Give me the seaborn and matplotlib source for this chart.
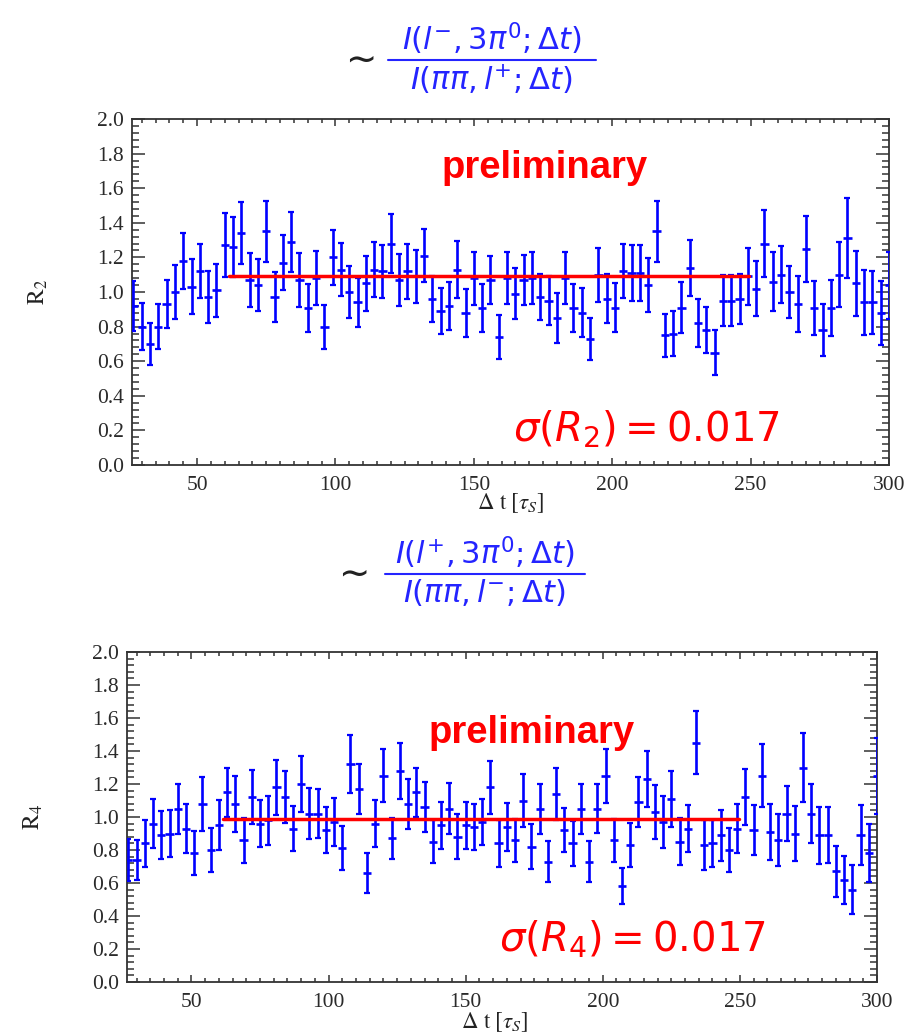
import numpy as np
import pandas as pd
import matplotlib
matplotlib.use("Agg")
import matplotlib.pyplot as plt
import seaborn as sns
from matplotlib.ticker import MultipleLocator, FormatStrFormatter
from matplotlib.lines import Line2D

# ---------------- data ----------------
dt_bins = list(range(27, 301, 3))          # bin centres of Delta t [tau_S]
bin_half_width = 1.5

r2_values = [0.92, 0.80, 0.70, 0.80, 0.93, 1.00, 1.18, 1.03, 1.12, 0.97,
             1.01, 1.27, 1.26, 1.34, 1.07, 1.04, 1.35, 0.97, 1.17, 1.29,
             1.07, 0.91, 1.08, 0.80, 1.20, 1.13, 1.00, 0.94, 1.05, 1.13,
             1.12, 1.28, 1.07, 1.12, 1.09, 1.21, 0.96, 0.89, 0.92, 1.13,
             0.88, 1.08, 0.91, 1.07, 0.74, 1.08, 0.99, 1.07, 1.08, 0.97,
             0.95, 0.85, 1.08, 0.91, 0.88, 0.73, 1.10, 0.96, 0.91, 1.12,
             1.11, 1.11, 1.04, 1.35, 0.75, 0.76, 0.91, 1.14, 0.82, 0.78,
             0.65, 0.95, 0.95, 0.96, 1.09, 1.02, 1.28, 1.06, 1.10, 1.00,
             0.93, 1.25, 0.91, 0.78, 0.91, 1.10, 1.31, 1.05, 0.94, 0.94,
             0.88, 1.04]
r2_errors = [0.146, 0.137, 0.123, 0.132, 0.137, 0.154, 0.160, 0.158, 0.156, 0.151,
             0.154, 0.186, 0.176, 0.180, 0.156, 0.149, 0.177, 0.144, 0.160, 0.173,
             0.158, 0.139, 0.156, 0.127, 0.160, 0.156, 0.149, 0.142, 0.160, 0.158,
             0.154, 0.173, 0.151, 0.160, 0.151, 0.155, 0.135, 0.132, 0.139, 0.163,
             0.140, 0.154, 0.139, 0.137, 0.125, 0.151, 0.146, 0.144, 0.151, 0.134,
             0.142, 0.142, 0.149, 0.139, 0.142, 0.121, 0.156, 0.142, 0.142, 0.156,
             0.160, 0.162, 0.154, 0.177, 0.125, 0.129, 0.146, 0.163, 0.137, 0.134,
             0.130, 0.149, 0.146, 0.146, 0.167, 0.157, 0.196, 0.172, 0.164, 0.150,
             0.160, 0.191, 0.156, 0.149, 0.162, 0.189, 0.231, 0.186, 0.187, 0.184,
             0.184, 0.194]

r4_values = [0.74, 0.74, 0.84, 0.96, 0.89, 0.90, 1.05, 0.93, 0.78, 1.08,
             0.80, 0.95, 1.15, 1.08, 0.86, 1.12, 0.96, 0.98, 1.18, 1.12,
             0.93, 1.20, 1.02, 1.02, 0.92, 0.97, 0.81, 1.32, 1.17, 0.66,
             0.96, 1.25, 0.87, 1.28, 1.08, 1.15, 1.06, 0.85, 0.95, 1.05,
             0.88, 0.95, 0.94, 0.97, 1.18, 0.84, 0.94, 0.86, 1.10, 0.82,
             1.05, 0.73, 1.14, 0.92, 0.84, 1.05, 0.73, 1.05, 1.25, 0.86,
             0.58, 0.83, 1.09, 1.23, 1.03, 0.97, 1.11, 0.85, 0.93, 1.45,
             0.83, 0.84, 0.89, 0.80, 0.93, 1.12, 0.92, 1.25, 0.91, 0.86,
             1.02, 0.90, 1.30, 1.02, 0.89, 0.89, 0.67, 0.62, 0.56, 0.89,
             0.78, 1.25]
r4_errors = [0.127, 0.120, 0.142, 0.150, 0.145, 0.145, 0.153, 0.147, 0.134, 0.165,
             0.132, 0.153, 0.150, 0.170, 0.136, 0.165, 0.143, 0.150, 0.165, 0.157,
             0.135, 0.172, 0.153, 0.150, 0.140, 0.145, 0.133, 0.175, 0.152, 0.120,
             0.143, 0.160, 0.125, 0.168, 0.152, 0.148, 0.152, 0.130, 0.143, 0.155,
             0.137, 0.142, 0.140, 0.140, 0.160, 0.140, 0.145, 0.130, 0.158, 0.135,
             0.150, 0.122, 0.160, 0.135, 0.135, 0.153, 0.123, 0.148, 0.165, 0.130,
             0.110, 0.136, 0.152, 0.168, 0.163, 0.157, 0.168, 0.143, 0.145, 0.192,
             0.152, 0.142, 0.155, 0.133, 0.148, 0.170, 0.150, 0.190, 0.168, 0.157,
             0.167, 0.165, 0.212, 0.178, 0.172, 0.170, 0.155, 0.145, 0.147, 0.182,
             0.175, 0.230]

fit_range = [61.5, 249.5]
r2_fit = 1.09
r4_fit = 0.99

x_ticks = [50, 100, 150, 200, 250, 300]
y_ticks = [0.0, 0.2, 0.4, 0.6, 0.8, 1.0, 1.2, 1.4, 1.6, 1.8, 2.0]

# ---------------- style ----------------
sns.set_theme(style="ticks")
plt.rcParams["font.family"] = ["DejaVu Sans"]
plt.rcParams["mathtext.fontset"] = "dejavusans"

W, H = 909, 1036
fig = plt.figure(figsize=(W / 100, H / 100), dpi=100)
fig.patch.set_facecolor("white")

BLUE = "#0000ff"
RED = "#ff0000"
TBLUE = "#2424ff"
AXC = "#333333"


def fx(px):
    return px / W


def fy(py):
    return 1 - py / H


def panel(rect, vals, errs, fit, ylab):
    ax = fig.add_axes(rect)
    df = pd.DataFrame({"dt": dt_bins, "R": vals, "err": errs})
    ax.errorbar(df["dt"], df["R"], yerr=df["err"], fmt="none", ecolor=BLUE,
                elinewidth=1.9, capsize=2.4, capthick=1.6, zorder=3)
    ax.errorbar(df["dt"], df["R"], xerr=bin_half_width, fmt="none", ecolor=BLUE,
                elinewidth=1.9, capsize=0, zorder=3)
    fit_df = pd.DataFrame({"dt": fit_range, "R": [fit, fit]})
    sns.lineplot(data=fit_df, x="dt", y="R", color=RED, lw=2.5, ax=ax, zorder=4)
    ax.set_xlim(26.5, 300)
    ax.set_ylim(0, 2.0)
    ax.set_xticks(x_ticks)
    ax.set_yticks(y_ticks)
    ax.xaxis.set_minor_locator(MultipleLocator(5))
    ax.yaxis.set_minor_locator(MultipleLocator(0.04))
    ax.yaxis.set_major_formatter(FormatStrFormatter("%.1f"))
    ax.tick_params(which="both", direction="in", top=True, right=True,
                   color=AXC, width=1.1)
    ax.tick_params(axis="y", which="major", length=9.5, pad=6)
    ax.tick_params(axis="y", which="minor", length=5)
    ax.tick_params(axis="x", which="major", length=5, pad=8)
    ax.tick_params(axis="x", which="minor", length=2.8)
    for lab in ax.get_xticklabels() + ax.get_yticklabels():
        lab.set_fontfamily("Liberation Serif")
        lab.set_fontsize(15.5)
        lab.set_color("#2a2a2a")
    for sp in ax.spines.values():
        sp.set_color(AXC)
        sp.set_linewidth(1.3)
    ax.set_xlabel(r"$\Delta\ \mathrm{t}\ [\tau_S]$", fontsize=16.5, math_fontfamily="stix",
                  color="#222222")
    ax.set_ylabel(r"$\mathrm{R}_{%s}$" % ylab, fontsize=17, math_fontfamily="stix",
                  color="#222222")
    ax.grid(False)
    return ax


ax1 = panel([fx(132), fy(465), fx(889 - 132), 346 / H], r2_values, r2_errors, r2_fit, "2")
ax2 = panel([fx(127), fy(982), fx(877 - 127), 330 / H], r4_values, r4_errors, r4_fit, "4")

ax1.xaxis.set_label_coords(0.5, -0.076)
ax2.xaxis.set_label_coords(0.49, -0.086)
ax1.yaxis.set_label_coords(-0.108, 0.5)
ax2.yaxis.set_label_coords(-0.109, 0.5)

# annotations
fig.text(fx(545), fy(168), "preliminary", color=RED, fontsize=27.5, fontweight="bold",
         family="Liberation Sans", ha="center", va="center")
fig.text(fx(532), fy(733), "preliminary", color=RED, fontsize=27.5, fontweight="bold",
         family="Liberation Sans", ha="center", va="center")
fig.text(fx(647), fy(430), r"$\sigma(R_2) = 0.017$", color=RED, fontsize=29,
         ha="center", va="center")
fig.text(fx(633), fy(940), r"$\sigma(R_4) = 0.017$", color=RED, fontsize=29,
         ha="center", va="center")


def title(y_line, x0, x1, num, den, x_tilde):
    fig.text(fx(x_tilde), fy(y_line), r"$\sim$", color="#222222", fontsize=27,
             ha="center", va="center")
    fig.text(fx((x0 + x1) / 2), fy(y_line - 3), num, color=TBLUE, fontsize=22,
             ha="center", va="bottom")
    fig.text(fx((x0 + x1) / 2), fy(y_line + 3), den, color=TBLUE, fontsize=22,
             ha="center", va="top")
    fig.add_artist(Line2D([fx(x0), fx(x1)], [fy(y_line), fy(y_line)], color=TBLUE,
                          lw=1.5, transform=fig.transFigure))


title(60, 388, 596, r"$I(l^{-},3\pi^{0};\Delta t)$", r"$I(\pi\pi,l^{+};\Delta t)$", 356)
title(574, 385, 585, r"$I(l^{+},3\pi^{0};\Delta t)$", r"$I(\pi\pi,l^{-};\Delta t)$", 349)

fig.savefig("out.png", dpi=100, facecolor="white")
